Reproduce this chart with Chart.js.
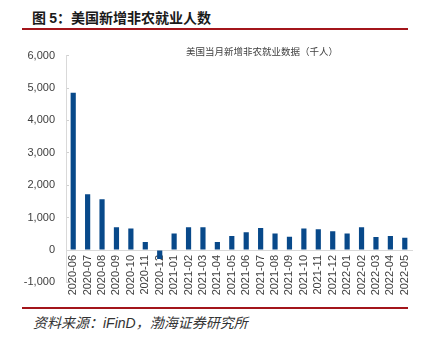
<!DOCTYPE html>
<html>
<head>
<meta charset="utf-8">
<script src="https://cdn.jsdelivr.net/npm/chart.js@4/dist/chart.umd.min.js"></script>
<style>
  html, body { margin: 0; padding: 0; background: #ffffff; }
  body { width: 428px; height: 337px; position: relative; overflow: hidden; font-family: "Noto Sans CJK SC", "Liberation Sans", sans-serif; }
  #title { position: absolute; left: 32px; top: 7px; font-size: 14px; font-weight: bold; color: #1a1a1a; white-space: nowrap; }
  #title .num { font-family: "Liberation Sans", Arial, sans-serif; }
  #topline { position: absolute; left: 22px; top: 28px; width: 386px; height: 2px; background: #a3151b; }
  #legend { position: absolute; left: 186px; top: 44px; font-size: 9.5px; color: #404040; white-space: nowrap; }
  #botline { position: absolute; left: 22px; top: 307px; width: 386px; height: 2px; background: #a3151b; }
  #source { position: absolute; left: 33px; top: 312px; font-size: 14px; font-style: italic; color: #333; white-space: nowrap; }
  #source .lat { font-family: "Liberation Sans", Arial, sans-serif; }
  #c { position: absolute; left: 0; top: 35px; }
</style>
</head>
<body>
<div id="title">图 <span class="num">5</span>：美国新增非农就业人数</div>
<div id="topline"></div>
<canvas id="c" width="428" height="268"></canvas>
<div id="legend">美国当月新增非农就业数据（千人）</div>
<div id="botline"></div>
<div id="source">资料来源：<span class="lat">iFinD</span>，渤海证券研究所</div>
<script>
const categories = ["2020-06","2020-07","2020-08","2020-09","2020-10","2020-11","2020-12",
  "2021-01","2021-02","2021-03","2021-04","2021-05","2021-06","2021-07","2021-08","2021-09",
  "2021-10","2021-11","2021-12","2022-01","2022-02","2022-03","2022-04","2022-05"];
const payrolls = [4850, 1720, 1570, 700, 660, 250, -280, 510, 700, 700, 250, 430,
  550, 680, 510, 410, 660, 640, 580, 510, 700, 400, 430, 380];
const seriesName = "美国当月新增非农就业数据（千人）";
const yMin = -1000, yMax = 6000, yStep = 1000;

new Chart(document.getElementById('c'), {
  type: 'bar',
  data: {
    labels: categories,
    datasets: [{
      label: seriesName,
      data: payrolls,
      backgroundColor: '#08498a',
      borderWidth: 0,
      categoryPercentage: 1.0,
      barPercentage: 0.36
    }]
  },
  options: {
    responsive: false,
    animation: false,
    devicePixelRatio: 1,
    layout: { padding: { left: 0, right: 16, top: 15, bottom: 20 } },
    plugins: { legend: { display: false }, tooltip: { enabled: false }, title: { display: false } },
    scales: {
      x: {
        position: { y: 0 },
        grid: { display: false, drawTicks: false },
        border: { display: true, color: '#d9d9d9', width: 1 },
        ticks: {
          minRotation: 90, maxRotation: 90, autoSkip: false, padding: 5,
          color: '#404040',
          font: { family: '"Liberation Sans", Arial, sans-serif', size: 11 }
        },
        afterFit: (s) => { s.height = 0; }
      },
      y: {
        min: yMin, max: yMax,
        grid: { display: true, drawOnChartArea: false, drawTicks: true, tickLength: -3, color: '#d0d0d0' },
        border: { display: true, color: '#d9d9d9', width: 1 },
        ticks: {
          stepSize: yStep, padding: 14,
          color: '#404040',
          font: { family: '"Liberation Sans", Arial, sans-serif', size: 11 },
          callback: (v) => v.toLocaleString('en-US')
        },
        afterFit: (s) => { s.width = 66; }
      }
    }
  }
});
</script>
</body>
</html>
